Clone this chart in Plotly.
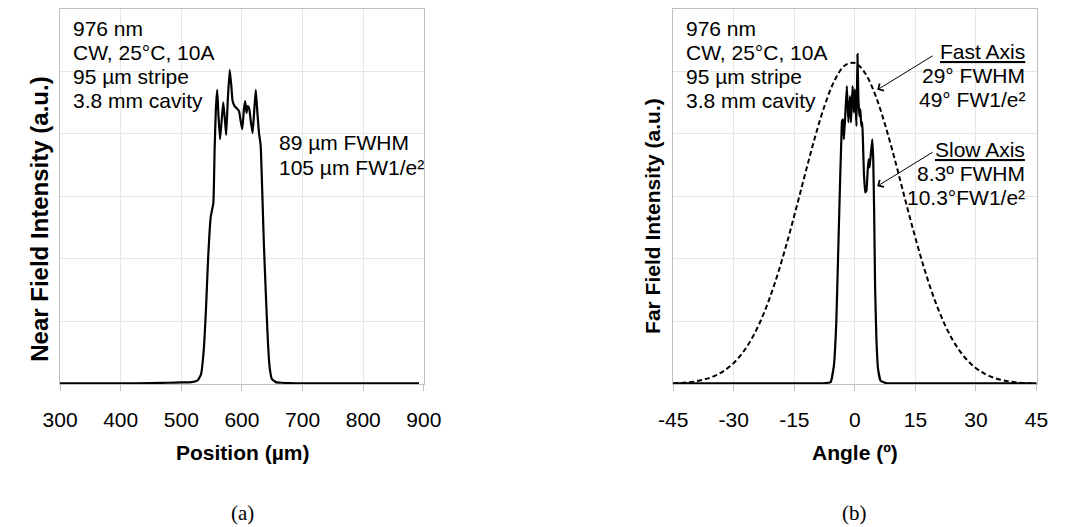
import plotly.graph_objects as go

# (a) near field profile
nf_pos = [300, 350, 400, 450, 480, 500, 516.7, 527.3, 532.6, 536.9, 540.6, 544.3, 548.5, 552.8,
          554.9, 557, 559.2, 561.3, 563.9, 567.1, 569.2, 571.9, 574, 576.7, 579.8, 582.5, 584.6,
          587.8, 592, 595.2, 597.9, 600.5, 603.2, 605.3, 607.4, 609.5, 612.2, 614.3, 617.5, 620.2,
          622.8, 625.5, 628.1, 630.8, 633.4, 636.1, 639.8, 643, 645.6, 649.3, 655.7, 665, 680, 700,
          750, 800, 850, 892]
nf_int = [0.01, 0.01, 0.01, 0.015, 0.02, 0.025, 0.03, 0.06, 0.16, 0.53, 1.18, 2.03, 2.67, 2.89,
          3.74, 4.39, 4.70, 4.28, 3.91, 4.28, 4.50, 4.22, 3.98, 4.55, 5.02, 4.76, 4.52,
          4.44, 4.40, 4.36, 4.20, 4.07, 4.39, 4.52, 4.33, 4.44, 4.39, 4.22, 4.01, 4.36,
          4.70, 4.33, 4.01, 3.82, 3.10, 2.25, 1.34, 0.64, 0.27, 0.08, 0.03, 0.02, 0.015, 0.01,
          0.01, 0.01, 0.01, 0.01]

# (b) far field, slow axis (solid)
sa_ang = [-45, -30, -20, -12, -8, -6, -5.2, -4.6, -4.15, -3.6, -3.35, -3.19, -2.95, -2.71, -2.39,
          -1.99, -1.6, -1.2, -0.96, -0.56, -0.24, 0, 0.4, 0.64, 0.88, 1.12, 1.36, 1.6, 1.83, 1.99,
          2.23, 2.55, 2.87, 3.19, 3.43, 3.67, 3.99, 4.31, 4.55, 4.78, 5.02, 5.34, 5.74, 6.38, 8,
          12, 20, 30, 45]
sa_int = [0.01, 0.01, 0.01, 0.01, 0.01, 0.03, 0.29, 0.98, 2.05, 3.38, 3.91, 4.20, 4.23, 3.91, 4.28,
          4.76, 4.18, 4.60, 4.18, 4.76, 4.34, 4.71, 4.12, 5.27, 4.55, 4.28, 4.39, 4.12, 4.18, 3.91,
          3.38, 3.06, 3.09, 3.43, 3.59, 3.46, 3.70, 3.91, 3.59, 2.74, 1.52, 0.72, 0.24, 0.05, 0.01,
          0.01, 0.01, 0.01, 0.01]

# (b) far field, fast axis (dashed)
fa_ang = [-45, -42.5, -40, -37.5, -35, -32.5, -30, -27.5, -25, -22.5, -20, -17.5, -15, -12.5,
          -10, -7.5, -5, -2.5, 0, 2.5, 5, 7.5, 10, 12.5, 15, 17.5, 20, 22.5, 25, 27.5, 30, 32.5,
          35, 37.5, 40, 42.5, 45]
fa_int = [0.010, 0.020, 0.038, 0.070, 0.122, 0.207, 0.337, 0.526, 0.789, 1.138, 1.578, 2.102,
          2.692, 3.311, 3.914, 4.446, 4.853, 5.09, 5.13, 4.97, 4.63, 4.14, 3.56, 2.938, 2.333,
          1.779, 1.303, 0.918, 0.621, 0.404, 0.253, 0.152, 0.088, 0.049, 0.026, 0.013, 0.007]

ang_ticks = [-45, -30, -15, 0, 15, 30, 45]
ang_labels = ["-45", "-30", "-15", "0", "15", "30", "45"]

info_lines = ["976 nm", "CW, 25°C, 10A", "95 µm stripe", "3.8 mm cavity"]
nf_width_lines = ["89 µm FWHM", "105 µm FW1/e²"]
fast_lines = ["<u>Fast Axis</u>", "29° FWHM", "49° FW1/e²"]
slow_lines = ["<u>Slow Axis</u>", "8.3º FWHM", "10.3°FW1/e²"]

W, H = 1070, 527
FONT = "Liberation Sans, Arial, sans-serif"
GRID = "#E6E6E6"
AXIS = "#BFBFBF"
FS = 21


def px(x):
    return x / W


def py(y):
    return 1 - y / H


fig = go.Figure()
fig.add_trace(go.Scatter(x=nf_pos, y=nf_int, mode="lines", xaxis="x", yaxis="y",
                         line=dict(color="black", width=2.2, shape="spline", smoothing=0.4)))
fig.add_trace(go.Scatter(x=fa_ang, y=fa_int, mode="lines", xaxis="x2", yaxis="y2",
                         line=dict(color="black", width=2, dash="5px,3px", shape="spline")))
fig.add_trace(go.Scatter(x=sa_ang, y=sa_int, mode="lines", xaxis="x2", yaxis="y2",
                         line=dict(color="black", width=2.2, shape="spline", smoothing=0.3)))

xcommon = dict(showgrid=True, gridcolor=GRID, showline=True, linecolor=AXIS, linewidth=1,
               mirror=True, ticks="outside", ticklen=6, tickcolor=AXIS, zeroline=False,
               tickfont=dict(family=FONT, size=FS, color="black"), ticklabelstandoff=11)
ycommon = dict(domain=[py(384), py(8.5)], range=[0, 6], dtick=1, showticklabels=False,
               showgrid=True, gridcolor=GRID, showline=True, linecolor=AXIS, linewidth=1,
               mirror=True, ticks="", zeroline=False)

fig.update_layout(
    width=W, height=H,
    margin=dict(l=0, r=0, t=0, b=0),
    paper_bgcolor="white", plot_bgcolor="white",
    showlegend=False,
    xaxis=dict(domain=[px(43.5), px(420)], range=[300, 900], tick0=300, dtick=100, anchor="y",
               **xcommon),
    yaxis=dict(anchor="x", **ycommon),
    xaxis2=dict(domain=[px(678), px(1054)], range=[-45, 45], tickvals=ang_ticks,
                ticktext=ang_labels, anchor="y2", **xcommon),
    yaxis2=dict(anchor="x2", **ycommon),
)

txt = dict(family=FONT, size=FS, color="black")
serif = dict(family="Liberation Serif, Times New Roman, serif", size=21, color="black")


def text_block(lines, x, first_baseline, step, anchor):
    # one annotation per line so the line spacing can follow the original
    for i, line in enumerate(lines):
        base = first_baseline + i * step
        fig.add_annotation(xref="paper", yref="paper", x=px(x), y=py(base - 0.35 * FS),
                           text=line, showarrow=False, xanchor=anchor, yanchor="middle",
                           align=anchor, font=txt)


text_block(info_lines, 55, 36, 24, "left")
text_block(info_lines, 689, 36, 24, "left")
text_block(nf_width_lines, 268, 150, 25, "left")
text_block(fast_lines, 1044, 58.5, 24, "right")
text_block(slow_lines, 1044, 157, 24, "right")

titles = [
    dict(x=px(232), y=py(452.5), text="<b>Position (µm)</b>", font=txt),
    dict(x=px(866), y=py(452.5), text="<b>Angle (º)</b>", font=txt),
    dict(x=px(22), y=py(219.5), text="<b>Near Field Intensity (a.u.)</b>", textangle=-90,
         font=dict(family=FONT, size=24, color="black")),
    dict(x=px(656), y=py(216), text="<b>Far Field Intensity (a.u.)</b>", textangle=-90,
         font=txt),
    dict(x=px(232), y=py(513), text="(a)", font=serif),
    dict(x=px(866), y=py(513), text="(b)", font=serif),
]
for t in titles:
    fig.add_annotation(xref="paper", yref="paper", showarrow=False, xanchor="center",
                       yanchor="middle", **t)

# arrows from labels to the curves
for tip_y in (4.70, 3.16):
    fig.add_annotation(xref="x2", yref="y2", x=5.54, y=tip_y, ax=57, ay=-35, text="",
                       showarrow=True, arrowhead=4, arrowsize=1.6, arrowwidth=1,
                       arrowcolor="black")

fig.write_html("out.html", config={"displayModeBar": False},
               post_script="document.body.style.margin='0';")
